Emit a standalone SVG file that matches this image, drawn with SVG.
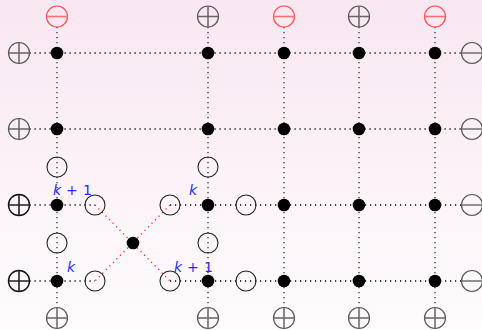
<svg xmlns="http://www.w3.org/2000/svg" xmlns:xlink="http://www.w3.org/1999/xlink" width="482" height="330" viewBox="0 0 482 330">
<defs>
<linearGradient id="bg" x1="0" y1="0" x2="0" y2="1">
<stop offset="0" stop-color="#f9e7f1"/>
<stop offset="1" stop-color="#fefcfd"/>
</linearGradient>
<g id="plus"><circle r="10.5" fill="none" stroke="#555" stroke-width="1.2"/><path d="M-10.5 0H10.5M0 -10.5V10.5" stroke="#666" stroke-width="1.5"/></g>
<g id="plusB"><circle r="10.5" fill="none" stroke="#111" stroke-width="1.4"/><path d="M-10.5 0H10.5M0 -10.5V10.5" stroke="#222" stroke-width="1.6"/></g>
<g id="minus"><circle r="10.5" fill="none" stroke="#555" stroke-width="1.2"/><path d="M-10.5 0H10.5" stroke="#777" stroke-width="1.6"/></g>
<g id="minusR"><circle r="10.5" fill="none" stroke="#ff4d4d" stroke-width="1.2"/><path d="M-10.5 0H10.5" stroke="#ff6f6f" stroke-width="1.6"/></g>
<circle id="open" r="10" fill="none" stroke="#222" stroke-width="1.1"/>
<circle id="dot" r="6.3" fill="#000"/>
</defs>
<style>
.h{stroke:#000;stroke-width:1.3;stroke-dasharray:1.2 3.8;fill:none}
.v{stroke:#333;stroke-width:1.3;stroke-dasharray:1.2 3.8;fill:none}
.r{stroke:#ff2020;stroke-width:1.3;stroke-dasharray:1.2 3.8;fill:none}
.lab{font-family:"DejaVu Sans",sans-serif;font-size:14px;fill:#2b2bff}
.it{font-style:italic}
</style>
<rect width="482" height="330" fill="url(#bg)"/>
<g id="connectors">
<path class="h" d="M29.5 53H461.5M29.5 129H461.5M29.5 205H95M170 205H461.5M29.5 281H95M170 281H461.5"/>
<path class="v" d="M57 27V307.5M208 27V307.5M284 27V307.5M359 27V307.5M435 27V307.5"/>
<path class="r" d="M95 205L170 281M170 205L95 281"/>
</g>
<g id="top-1"><use xlink:href="#minusR" x="57" y="16.5"/></g>
<g id="top-2"><use xlink:href="#plus" x="208" y="16.5"/></g>
<g id="top-3"><use xlink:href="#minusR" x="284" y="16.5"/></g>
<g id="top-4"><use xlink:href="#plus" x="359" y="16.5"/></g>
<g id="top-5"><use xlink:href="#minusR" x="435" y="16.5"/></g>
<g id="bottom-1"><use xlink:href="#plus" x="57" y="318"/></g>
<g id="bottom-2"><use xlink:href="#plus" x="208" y="318"/></g>
<g id="bottom-3"><use xlink:href="#plus" x="284" y="318"/></g>
<g id="bottom-4"><use xlink:href="#plus" x="359" y="318"/></g>
<g id="bottom-5"><use xlink:href="#plus" x="435" y="318"/></g>
<g id="left-1"><use xlink:href="#plus" x="19" y="53"/></g>
<g id="left-2"><use xlink:href="#plus" x="19" y="129"/></g>
<g id="left-3"><use xlink:href="#plusB" x="19" y="205"/></g>
<g id="left-4"><use xlink:href="#plusB" x="19" y="281"/></g>
<g id="right-1"><use xlink:href="#minus" x="472" y="53"/></g>
<g id="right-2"><use xlink:href="#minus" x="472" y="129"/></g>
<g id="right-3"><use xlink:href="#minus" x="472" y="205"/></g>
<g id="right-4"><use xlink:href="#minus" x="472" y="281"/></g>
<g id="open-1"><use xlink:href="#open" x="57" y="167"/></g>
<g id="open-2"><use xlink:href="#open" x="57" y="243"/></g>
<g id="open-3"><use xlink:href="#open" x="95" y="205"/></g>
<g id="open-4"><use xlink:href="#open" x="170" y="205"/></g>
<g id="open-5"><use xlink:href="#open" x="95" y="281"/></g>
<g id="open-6"><use xlink:href="#open" x="170" y="281"/></g>
<g id="open-7"><use xlink:href="#open" x="208" y="167"/></g>
<g id="open-8"><use xlink:href="#open" x="208" y="243"/></g>
<g id="open-9"><use xlink:href="#open" x="246" y="205"/></g>
<g id="open-10"><use xlink:href="#open" x="246" y="281"/></g>
<g id="dot-r1"><use xlink:href="#dot" x="57" y="53"/><use xlink:href="#dot" x="208" y="53"/><use xlink:href="#dot" x="284" y="53"/><use xlink:href="#dot" x="359" y="53"/><use xlink:href="#dot" x="435" y="53"/></g>
<g id="dot-r2"><use xlink:href="#dot" x="57" y="129"/><use xlink:href="#dot" x="208" y="129"/><use xlink:href="#dot" x="284" y="129"/><use xlink:href="#dot" x="359" y="129"/><use xlink:href="#dot" x="435" y="129"/></g>
<g id="dot-r3"><use xlink:href="#dot" x="57" y="205"/><use xlink:href="#dot" x="208" y="205"/><use xlink:href="#dot" x="284" y="205"/><use xlink:href="#dot" x="359" y="205"/><use xlink:href="#dot" x="435" y="205"/></g>
<g id="dot-r4"><use xlink:href="#dot" x="57" y="281"/><use xlink:href="#dot" x="208" y="281"/><use xlink:href="#dot" x="284" y="281"/><use xlink:href="#dot" x="359" y="281"/><use xlink:href="#dot" x="435" y="281"/></g>
<g id="center"><use xlink:href="#dot" x="133" y="243"/></g>
<g id="labels">
<text class="lab" y="195"><tspan class="it" x="53">k</tspan><tspan x="66">+</tspan><tspan x="83">1</tspan></text>
<text class="lab" y="195"><tspan class="it" x="189">k</tspan></text>
<text class="lab" y="272"><tspan class="it" x="67">k</tspan></text>
<text class="lab" y="272"><tspan class="it" x="174">k</tspan><tspan x="187">+</tspan><tspan x="204">1</tspan></text>
</g>
</svg>
